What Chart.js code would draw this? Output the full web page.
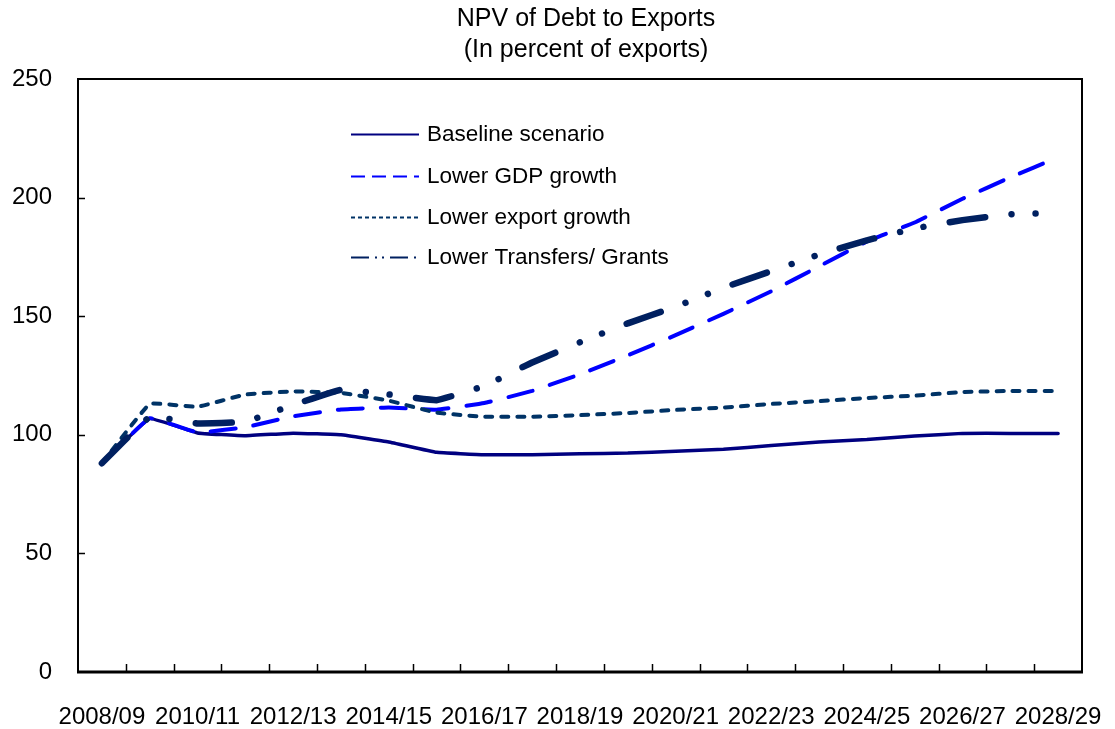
<!DOCTYPE html>
<html>
<head>
<meta charset="utf-8">
<script src="https://cdn.jsdelivr.net/npm/chart.js@4.4.1/dist/chart.umd.min.js"></script>
<style>
html,body{margin:0;padding:0;background:#ffffff;}
#wrap{width:1115px;height:729px;position:relative;}
canvas{display:block;}
</style>
</head>
<body>
<div id="wrap"><canvas id="c" width="1115" height="729"></canvas></div>
<script>
// ---- data ----
const categories = ["2008/09","2009/10","2010/11","2011/12","2012/13","2013/14","2014/15","2015/16","2016/17","2017/18","2018/19","2019/20","2020/21","2021/22","2022/23","2023/24","2024/25","2025/26","2026/27","2027/28","2028/29"];
const baselineScenario = [88, 106.8, 100.8, 99.6, 100.7, 100, 97, 92.6, 91.6, 91.6, 92, 92.3, 93.1, 93.9, 95.5, 97, 98, 99.5, 100.6, 100.6, 100.6];
const lowerGdpGrowth = [88, 107, 101, 103.2, 107.8, 110.7, 111.5, 110.6, 113.4, 118.5, 125.5, 133.5, 142, 151, 160.5, 171, 181.5, 189.5, 199.5, 208.5, 217];
const lowerExportGrowth = [88, 113, 111.8, 117, 118.3, 117.7, 114.4, 109.3, 107.6, 107.6, 108.3, 109.2, 110.5, 111.5, 113, 114.2, 115.5, 116.5, 118, 118.5, 118.5];
const lowerTransfersGrants = [88, 107.5, 104.8, 105.5, 112.6, 119, 117, 114.6, 120.6, 130.5, 139, 147, 154, 162, 169, 176, 182, 187, 190.5, 193, 193.5];
const seriesNames = ["Baseline scenario", "Lower GDP growth", "Lower export growth", "Lower Transfers/ Grants"];
const titleLines = ["NPV of Debt to Exports", "(In percent of exports)"];
const yMin = 0, yMax = 250, yStep = 50;

const FONT = "'Liberation Sans', Arial, sans-serif";

const styles = [
  {color:'#000080', width:3.5, dash:[], cap:'round', legendDash:[]},
  {color:'#0000ff', width:4, dash:[25,18], cap:'round', legendDash:[14,7]},
  {color:'#003366', width:4, dash:[7,9], cap:'round', legendDash:[4,3]},
  {color:'#002060', width:6.5, dash:[36,26.5,0.01,24,0.01,26.5], cap:'round', legendDash:[18,6,2,5,2,6]}
];
const seriesValues = [baselineScenario, lowerGdpGrowth, lowerExportGrowth, lowerTransfersGrants];

const datasets = seriesValues.map((vals, i) => ({
  label: seriesNames[i],
  data: vals,
  borderColor: styles[i].color,
  backgroundColor: styles[i].color,
  borderWidth: styles[i].width,
  borderDash: styles[i].dash,
  borderCapStyle: styles[i].cap,
  borderJoinStyle: 'round',
  pointRadius: 0,
  pointHoverRadius: 0,
  tension: 0.08,
  fill: false,
  order: 4 - i
}));

const framePlugin = {
  id: 'frame',
  afterDatasetsDraw(chart) {
    const ctx = chart.ctx, a = chart.chartArea;
    const xs = chart.scales.x, ys = chart.scales.y;
    ctx.save();
    ctx.strokeStyle = '#000';
    ctx.lineWidth = 2;
    ctx.strokeRect(a.left, a.top, a.right - a.left, a.bottom - a.top);
    ctx.lineWidth = 3;
    ctx.beginPath();
    ctx.moveTo(a.left - 1, a.bottom); ctx.lineTo(a.right + 1, a.bottom);
    ctx.stroke();
    // x tick marks between categories (inward)
    ctx.lineWidth = 1.5;
    ctx.beginPath();
    for (let i = 1; i < categories.length; i++) {
      const x = Math.round((xs.getPixelForValue(i - 1) + xs.getPixelForValue(i)) / 2) + 0.5;
      ctx.moveTo(x, a.bottom); ctx.lineTo(x, a.bottom - 8);
    }
    // y tick marks (inward)
    for (let v = yMin + yStep; v < yMax; v += yStep) {
      const y = Math.round(ys.getPixelForValue(v)) + 0.5;
      ctx.moveTo(a.left, y); ctx.lineTo(a.left + 7, y);
    }
    ctx.stroke();
    ctx.restore();
  }
};

const titlePlugin = {
  id: 'customTitle',
  afterDraw(chart) {
    const ctx = chart.ctx;
    ctx.save();
    ctx.fillStyle = '#000';
    ctx.font = "25px " + FONT;
    ctx.textAlign = 'center';
    ctx.textBaseline = 'middle';
    ctx.fillText(titleLines[0], 586, 19);
    ctx.fillText(titleLines[1], 586, 50);
    ctx.restore();
  }
};

const legendPlugin = {
  id: 'customLegend',
  afterDatasetsDraw(chart) {
    const ctx = chart.ctx;
    const rows = [134, 176, 217, 257];
    ctx.save();
    chart.data.datasets.forEach((ds, i) => {
      const y = rows[i] + 0.5;
      ctx.strokeStyle = ds.borderColor;
      ctx.lineWidth = 2;
      ctx.lineCap = 'butt';
      ctx.setLineDash(styles[i].legendDash);
      ctx.beginPath();
      ctx.moveTo(351, y); ctx.lineTo(419, y);
      ctx.stroke();
      ctx.setLineDash([]);
      ctx.fillStyle = '#000';
      ctx.font = "22.5px " + FONT;
      ctx.textAlign = 'left';
      ctx.textBaseline = 'middle';
      ctx.fillText(ds.label, 427, rows[i] + 1);
    });
    ctx.restore();
  }
};

new Chart(document.getElementById('c'), {
  type: 'line',
  data: { labels: categories, datasets: datasets },
  options: {
    responsive: false,
    animation: false,
    devicePixelRatio: 1,
    layout: { padding: { top: 79, right: 33, bottom: 0, left: 0 } },
    plugins: {
      legend: { display: false },
      title: { display: false },
      tooltip: { enabled: false }
    },
    scales: {
      x: {
        type: 'category',
        offset: true,
        grid: { display: false, drawTicks: false, offset: true },
        border: { display: false },
        ticks: {
          autoSkip: false,
          maxRotation: 0,
          minRotation: 0,
          padding: 31,
          color: '#000',
          font: { family: FONT, size: 24 },
          callback: function(value, index) { return index % 2 === 0 ? categories[index] : ''; }
        },
        afterFit: function(s) { s.height = 57; s.paddingLeft = 0; s.paddingRight = 0; }
      },
      y: {
        min: yMin,
        max: yMax,
        grid: { display: false, drawTicks: false },
        border: { display: false },
        ticks: {
          stepSize: yStep,
          padding: 26,
          color: '#000',
          font: { family: FONT, size: 24 }
        },
        afterFit: function(s) { s.width = 78; s.paddingTop = 0; s.paddingBottom = 0; }
      }
    }
  },
  plugins: [framePlugin, titlePlugin, legendPlugin]
});
</script>
</body>
</html>
